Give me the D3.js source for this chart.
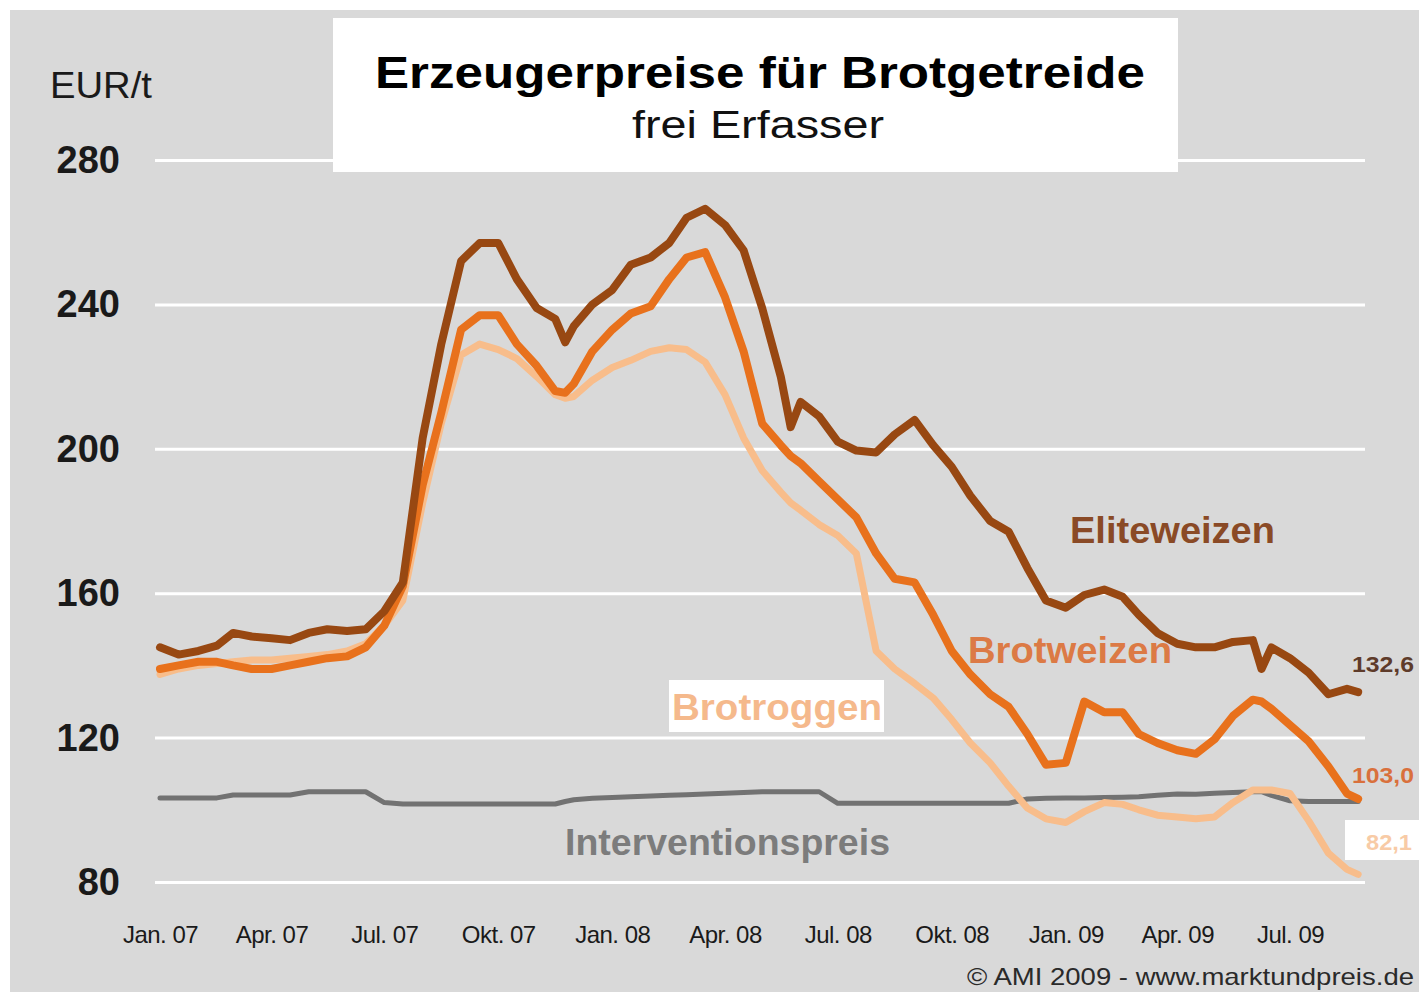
<!DOCTYPE html>
<html>
<head>
<meta charset="utf-8">
<script src="https://cdn.jsdelivr.net/npm/d3@7"></script>
<style>
  html, body { margin: 0; padding: 0; background: #ffffff; }
  svg { display: block; }
  text { font-family: "Liberation Sans", Arial, sans-serif; }
</style>
</head>
<body>
<svg id="chart" width="1419" height="992"></svg>
<script>
// ---------- DATA ----------
const dates = [
  "2007-01-01","2007-01-16","2007-02-01","2007-02-16","2007-03-01","2007-03-16",
  "2007-04-01","2007-04-16","2007-05-01","2007-05-16","2007-06-01","2007-06-16",
  "2007-07-01","2007-07-16","2007-08-01","2007-08-16","2007-09-01","2007-09-16",
  "2007-10-01","2007-10-16","2007-11-01","2007-11-16","2007-11-24","2007-12-01","2007-12-16",
  "2008-01-01","2008-01-16","2008-02-01","2008-02-16","2008-03-01","2008-03-16",
  "2008-04-01","2008-04-16","2008-05-01","2008-05-16","2008-05-24","2008-06-01","2008-06-16",
  "2008-07-01","2008-07-16","2008-08-01","2008-08-16","2008-09-01","2008-09-16",
  "2008-10-01","2008-10-16","2008-11-01","2008-11-16","2008-12-01","2008-12-16",
  "2009-01-01","2009-01-16","2009-02-01","2009-02-16","2009-03-01","2009-03-16",
  "2009-04-01","2009-04-16","2009-05-01","2009-05-16","2009-06-01","2009-06-08","2009-06-16",
  "2009-07-01","2009-07-16","2009-08-01","2009-08-16","2009-08-25"
];
const eliteweizen = [
  145,143,144,145.5,149,148,
  147.5,147,149,150,149.5,150,
  155,163,203,229,252,257,
  257,247,239,236,229.5,234,240,
  244,251,253,257,264,266.5,
  262,255,239,220,206,213,209,
  202,199.5,199,204,208,201,
  195,187,180,177,167,158,
  156,159.5,161,159,154,149,
  146,145,145,146.5,147,139,145,
  142,138,132,133.5,132.6
];
const brotweizen = [
  139,140,141,141,140,139,
  139,140,141,142,142.5,145,
  151,162,190,210,233,237,
  237,229,223,216,215.5,218,227,
  233,237.5,239.5,247,253,254.5,
  242,227,207,201,198,196,191,
  186,181,171,164,163,154,
  144,137.5,132,128.5,121,112.5,
  113,130,127,127,121,118.5,
  116.5,115.5,119.5,126,130.5,130,128,
  123.5,119,112,104.5,103.0
];
const brotroggen = [
  137.5,139,140,140.5,141,141.5,
  141.5,142,142.5,143,144,146,
  151,158,185,207,226,229,
  227.5,225,220,215,214,214.5,219,
  222.5,224.5,227,228,227.5,224,
  215,203,194,188,185,183,179,
  176,171,144,139,135,131,
  125,118.5,113,106.5,100.5,97.5,
  96.5,99.5,102,101.5,100,98.5,
  98,97.5,98,102,105.5,105.5,105.5,
  104.5,97,88,83.5,82.1
];
const interventionspreis = [
  103.3,103.3,103.3,103.3,104.1,104.1,
  104.1,104.1,105,105,105,105,
  102,101.6,101.6,101.6,101.6,101.6,
  101.6,101.6,101.6,101.6,102.3,102.8,103.2,
  103.4,103.6,103.8,104,104.2,104.4,
  104.6,104.8,105,105,105,105,105,
  101.8,101.8,101.8,101.8,101.8,101.8,
  101.8,101.8,101.8,101.8,103,103.2,
  103.3,103.3,103.4,103.5,103.6,104,
  104.4,104.3,104.6,104.8,105,105,104,
  102.5,102.3,102.3,102.3,102.3
];
const yTickValues = [80, 120, 160, 200, 240, 280];
const xTickDates = ["2007-01-01","2007-04-01","2007-07-01","2007-10-01","2008-01-01","2008-04-01",
                    "2008-07-01","2008-10-01","2009-01-01","2009-04-01","2009-07-01"];
const xTickLabels = ["Jan. 07","Apr. 07","Jul. 07","Okt. 07","Jan. 08","Apr. 08",
                     "Jul. 08","Okt. 08","Jan. 09","Apr. 09","Jul. 09"];
const endLabels = ["132,6", "103,0", "82,1"];

// ---------- SETUP ----------
const parse = d3.utcParse("%Y-%m-%d");
const T = dates.map(parse);
const svg = d3.select("#chart");

svg.append("rect").attr("x", 10).attr("y", 10).attr("width", 1409).attr("height", 982)
  .attr("fill", "#d9d9d9");

const x = d3.scaleUtc().domain([parse("2007-01-01"), parse("2009-07-01")]).range([160, 1290]);
const y = d3.scaleLinear().domain([80, 280]).range([882, 160]);

// grid + y labels
const yAxis = d3.axisLeft(y).tickValues(yTickValues).tickSize(-1210).tickPadding(40).tickFormat(d3.format("d"));
const gy = svg.append("g").attr("transform", "translate(155,0)").call(yAxis);
gy.select(".domain").remove();
gy.selectAll(".tick line").attr("stroke", "#ffffff").attr("stroke-width", 3);
gy.selectAll(".tick text").attr("fill", "#1a1a1a").attr("font-size", 38).attr("font-weight", "bold")
  .attr("dy", "0.33em").attr("x", -35);

// x labels
const xAxis = d3.axisBottom(x).tickValues(xTickDates.map(parse)).tickSize(0).tickPadding(44)
  .tickFormat((d, i) => xTickLabels[i]);
const gx = svg.append("g").attr("transform", "translate(0,882)").call(xAxis);
gx.select(".domain").remove();
gx.selectAll(".tick text").attr("fill", "#1a1a1a").attr("font-size", 24).attr("letter-spacing", "-0.5px");

// lines
const line = d3.line().x((d, i) => x(T[i])).y(d => y(d));
const series = [
  { v: interventionspreis, c: "#727272", w: 5 },
  { v: brotroggen, c: "#f8bd8b", w: 7 },
  { v: brotweizen, c: "#e8711c", w: 8 },
  { v: eliteweizen, c: "#984812", w: 8 }
];
svg.append("g").selectAll("path").data(series).join("path")
  .attr("d", s => line(s.v)).attr("fill", "none")
  .attr("stroke", s => s.c).attr("stroke-width", s => s.w)
  .attr("stroke-linejoin", "round").attr("stroke-linecap", "round");

// title box
svg.append("rect").attr("x", 333).attr("y", 18).attr("width", 845).attr("height", 154).attr("fill", "#ffffff");
svg.append("text").attr("x", 760).attr("y", 88).attr("text-anchor", "middle")
  .attr("font-size", 45).attr("font-weight", "bold").attr("fill", "#000")
  .attr("textLength", 770).attr("lengthAdjust", "spacingAndGlyphs")
  .text("Erzeugerpreise für Brotgetreide");
svg.append("text").attr("x", 758).attr("y", 138).attr("text-anchor", "middle")
  .attr("font-size", 38).attr("fill", "#111")
  .attr("textLength", 252).attr("lengthAdjust", "spacingAndGlyphs")
  .text("frei Erfasser");

svg.append("text").attr("x", 50).attr("y", 98).attr("font-size", 37).attr("fill", "#1a1a1a")
  .attr("textLength", 102).attr("lengthAdjust", "spacingAndGlyphs").text("EUR/t");

// series labels
svg.append("text").attr("x", 1070).attr("y", 543).attr("font-size", 37).attr("font-weight", "bold")
  .attr("fill", "#8a4a26").attr("textLength", 205).attr("lengthAdjust", "spacingAndGlyphs").text("Eliteweizen");
svg.append("text").attr("x", 968).attr("y", 663).attr("font-size", 37).attr("font-weight", "bold")
  .attr("fill", "#dc7a45").attr("textLength", 204).attr("lengthAdjust", "spacingAndGlyphs").text("Brotweizen");
svg.append("rect").attr("x", 669).attr("y", 680).attr("width", 215).attr("height", 52).attr("fill", "#ffffff");
svg.append("text").attr("x", 672).attr("y", 720).attr("font-size", 37).attr("font-weight", "bold")
  .attr("fill", "#f5b98c").attr("textLength", 210).attr("lengthAdjust", "spacingAndGlyphs").text("Brotroggen");
svg.append("text").attr("x", 565).attr("y", 855).attr("font-size", 36).attr("font-weight", "bold")
  .attr("fill", "#7c7c7c").attr("textLength", 325).attr("lengthAdjust", "spacingAndGlyphs").text("Interventionspreis");

// end labels
svg.append("text").attr("x", 1352).attr("y", 672).attr("font-size", 22).attr("font-weight", "bold")
  .attr("fill", "#5e3b2a").attr("textLength", 62).attr("lengthAdjust", "spacingAndGlyphs").text(endLabels[0]);
svg.append("text").attr("x", 1352).attr("y", 783).attr("font-size", 22).attr("font-weight", "bold")
  .attr("fill", "#d9703c").attr("textLength", 62).attr("lengthAdjust", "spacingAndGlyphs").text(endLabels[1]);
svg.append("rect").attr("x", 1345).attr("y", 820).attr("width", 74).attr("height", 40).attr("fill", "#ffffff");
svg.append("text").attr("x", 1366).attr("y", 850).attr("font-size", 22).attr("font-weight", "bold")
  .attr("fill", "#f8cba6").attr("textLength", 46).attr("lengthAdjust", "spacingAndGlyphs").text(endLabels[2]);

// source
svg.append("text").attr("x", 1414).attr("y", 985).attr("text-anchor", "end").attr("font-size", 24)
  .attr("fill", "#2a2a2a").attr("textLength", 447).attr("lengthAdjust", "spacingAndGlyphs")
  .text("© AMI 2009  - www.marktundpreis.de");
</script>
</body>
</html>
